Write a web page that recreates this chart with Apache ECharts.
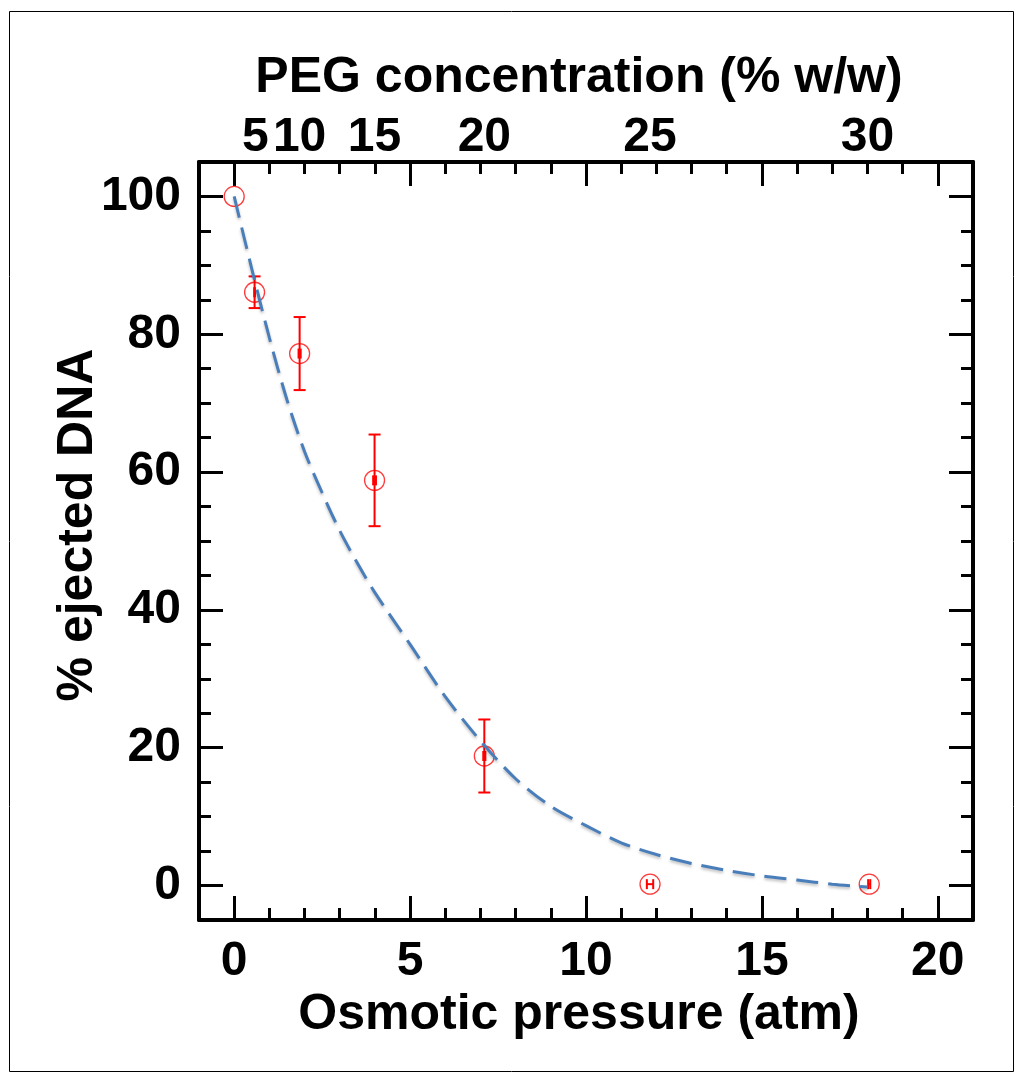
<!DOCTYPE html>
<html><head><meta charset="utf-8">
<script src="https://cdn.jsdelivr.net/npm/echarts@6/dist/echarts.min.js"></script>
<style>html,body{margin:0;padding:0;background:#fff}#c{width:1016px;height:1078px}</style>
</head><body><div id="c"></div>
<script>
// ---- data ----
const pressure = [0, 0.58, 1.86, 3.99, 7.11, 11.82, 18.05];      // osmotic pressure (atm)
const ejected  = [100, 86.1, 77.2, 58.8, 18.8, 0.2, 0.2];        // % ejected DNA
const errY     = [0, 2.3, 5.3, 6.65, 5.3, 0, 0];                  // vertical error
const errX     = [0, 0.01, 0.03, 0.04, 0.03, 0.09, 0.03];         // horizontal error
const pegLabels   = ['5', '10', '15', '20', '25', '30'];          // PEG % w/w
const pegPressure = [0.6, 1.86, 3.99, 7.11, 11.82, 18.0];         // where PEG labels sit
const fitX = [0, 0.5, 1, 1.5, 2, 2.5, 3, 3.5, 4, 5, 6, 7, 8, 9, 10, 11, 12, 13, 14, 15, 16, 17, 18];
const fitY = [100, 89.5, 79.5, 70.5, 63, 57, 51.5, 46.8, 42.5, 35, 27.4, 21, 15.5, 11.5, 8.7, 6.2, 4.5, 3.2, 2.2, 1.4, 0.8, 0.2, -0.2];
const xTickLabels = [0, 5, 10, 15, 20];
const yTickLabels = [0, 20, 40, 60, 80, 100];
const xTitle = 'Osmotic pressure (atm)';
const topTitle = 'PEG concentration (% w/w)';
const yTitle = '% ejected DNA';

const FAM = '"Liberation Sans", Arial, sans-serif';
const TITLE = 50;
const TICK = 48;
const lineCol = '#000';

const xMin = -1, xMax = 21, yMin = -5, yMax = 105;

function axis(pos, isX, extra) {
  return Object.assign({
    type: 'value', position: pos,
    min: isX ? xMin : yMin, max: isX ? xMax : yMax,
    minInterval: isX ? 5 : 20, maxInterval: isX ? 5 : 20,
    splitLine: {show: false},
    axisLine: {show: true, onZero: false, lineStyle: {color: lineCol, width: 4}},
    axisTick: {show: true, inside: true, length: 24, lineStyle: {color: lineCol, width: 3}},
    minorTick: {show: true, splitNumber: isX ? 5 : 4, length: 12, lineStyle: {color: lineCol, width: 3}},
    axisLabel: {show: false},
    nameMoveOverlap: false
  }, extra);
}
const tickFont = {fontFamily: FAM, fontWeight: 'bold', fontSize: TICK, color: '#000'};
const titleFont = {fontFamily: FAM, fontWeight: 'bold', fontSize: TITLE, color: '#000'};

const option = {
  animation: false,
  backgroundColor: '#fff',
  grid: {left: 199, right: 43, top: 162, bottom: 158, containLabel: false},
  xAxis: [
    axis('bottom', true, {
      axisLabel: Object.assign({show: true, customValues: xTickLabels, margin: 18}, tickFont),
      name: xTitle, nameLocation: 'middle', nameGap: 70,
      nameTextStyle: Object.assign({padding: [0, 14, 0, 0]}, titleFont)
    }),
    axis('top', true, {
      axisLabel: Object.assign({show: true, customValues: pegPressure, margin: 0, hideOverlap: false,
        formatter: v => { const i = pegPressure.indexOf(v); return i >= 0 ? pegLabels[i] : ''; }}, tickFont),
      name: topTitle, nameLocation: 'middle', nameGap: 59,
      nameTextStyle: Object.assign({padding: [0, 14, 0, 0]}, titleFont)
    })
  ],
  yAxis: [
    axis('left', false, {
      axisLabel: Object.assign({show: true, customValues: yTickLabels, margin: 18}, tickFont),
      name: yTitle, nameLocation: 'middle', nameGap: 96, nameRotate: 90,
      nameTextStyle: Object.assign({padding: [0, 0, 0, 32]}, titleFont)
    }),
    axis('right', false, {})
  ],
  graphic: [
    {type: 'rect', left: 7, top: 9, shape: {width: 1004, height: 1060}, style: {fill: 'none', stroke: '#000', lineWidth: 1}, z: -10}
  ],
  series: [
    {
      type: 'scatter', xAxisIndex: 0, yAxisIndex: 0, z: 3,
      symbol: 'circle', symbolSize: 20,
      itemStyle: {color: 'rgba(255,255,255,0)', borderColor: '#ff3b3b', borderWidth: 1.3, opacity: 1},
      data: pressure.map((x, i) => [x, ejected[i]])
    },
    {
      type: 'custom', xAxisIndex: 0, yAxisIndex: 0, z: 4,
      encode: {x: 0, y: 1},
      data: pressure.map((x, i) => [x, ejected[i], errY[i], errX[i]]),
      renderItem: (params, api) => {
        const x = api.value(0), y = api.value(1), ey = api.value(2), ex = api.value(3);
        const st = {stroke: '#ff0000', lineWidth: 2};
        const ch = [];
        if (ey > 0) {
          const t = api.coord([x, y + ey]), b = api.coord([x, y - ey]), c = 6;
          ch.push({type: 'line', shape: {x1: t[0], y1: t[1], x2: b[0], y2: b[1]}, style: st});
          ch.push({type: 'line', shape: {x1: t[0] - c, y1: t[1], x2: t[0] + c, y2: t[1]}, style: st});
          ch.push({type: 'line', shape: {x1: b[0] - c, y1: b[1], x2: b[0] + c, y2: b[1]}, style: st});
        }
        if (ex > 0) {
          const l = api.coord([x - ex, y]), r = api.coord([x + ex, y]), c = 5;
          ch.push({type: 'line', shape: {x1: l[0], y1: l[1], x2: r[0], y2: r[1]}, style: st});
          ch.push({type: 'line', shape: {x1: l[0], y1: l[1] - c, x2: l[0], y2: l[1] + c}, style: st});
          ch.push({type: 'line', shape: {x1: r[0], y1: r[1] - c, x2: r[0], y2: r[1] + c}, style: st});
        }
        return {type: 'group', children: ch};
      }
    },
    {
      type: 'line', xAxisIndex: 0, yAxisIndex: 0, z: 5,
      smooth: 0.3, showSymbol: false, symbol: 'none',
      lineStyle: {color: '#4a7ebb', width: 3, type: [22, 10],
        shadowColor: 'rgba(0,0,0,0.25)', shadowBlur: 3, shadowOffsetY: 2},
      data: fitX.map((x, i) => [x, fitY[i]])
    }
  ]
};
const chart = echarts.init(document.getElementById('c'), null, {renderer: 'canvas'});
chart.setOption(option);
</script></body></html>
